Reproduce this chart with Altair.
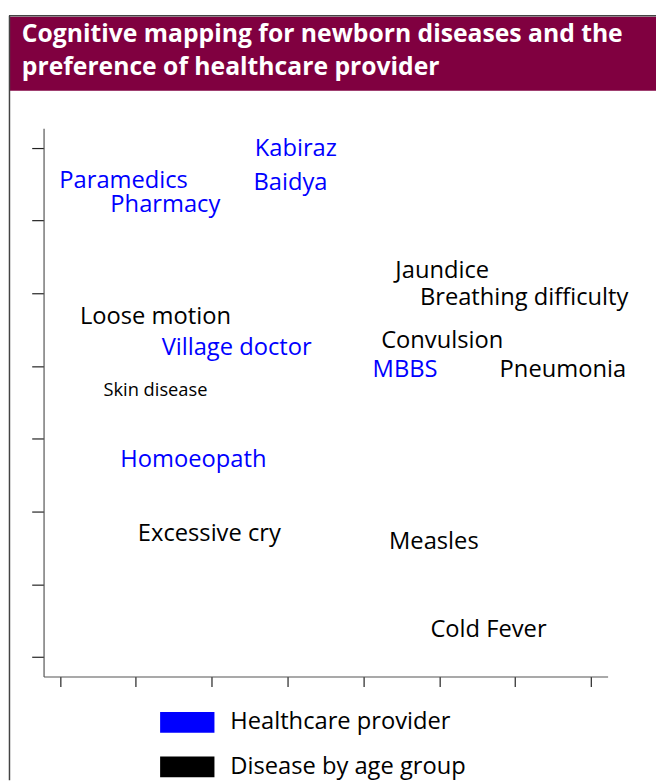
import altair as alt
import pandas as pd

# ---- data ----
labels = ["Kabiraz", "Baidya", "Paramedics", "Pharmacy", "Village doctor", "Homoeopath", "MBBS",
          "Loose motion", "Skin disease", "Excessive cry", "Jaundice", "Breathing difficulty",
          "Convulsion", "Pneumonia", "Measles", "Cold Fever"]
xs = [3.11, 3.04, 0.84, 1.39, 2.33, 1.76, 4.55,
      1.26, 1.26, 1.97, 5.04, 6.12, 5.04, 6.63, 4.93, 5.65]
ys = [6.99, 6.52, 6.55, 6.21, 4.25, 2.70, 3.94,
      4.67, 3.67, 1.69, 5.30, 4.93, 4.35, 3.94, 1.58, 0.37]
groups = ["Healthcare provider"] * 7 + ["Disease by age group"] * 9
font_sizes = [24, 24, 24, 24, 24, 24, 24, 24, 18.5, 24, 24, 24, 24, 24, 24, 24]

group_names = ["Healthcare provider", "Disease by age group"]
group_colors = ["#0000ff", "#000000"]
tick_values = [0, 1, 2, 3, 4, 5, 6, 7]
title_lines = ["Cognitive mapping for newborn diseases and the",
               "preference of healthcare provider"]

FONT = "Open Sans"

df = pd.DataFrame({"label": labels, "x": xs, "y": ys, "group": groups, "fs": font_sizes})
title_df = pd.DataFrame({"line": title_lines, "row": [0, 1]})

W, H = 571, 555

xscale = alt.Scale(domain=[-0.215, 7.22], nice=False, zero=False)
yscale = alt.Scale(domain=[-0.27, 7.27], nice=False, zero=False)

points = alt.Chart(df).mark_text(font=FONT, align="center", baseline="middle").encode(
    x=alt.X("x:Q", scale=xscale,
            axis=alt.Axis(values=tick_values, labels=False, title=None, grid=False,
                          tickSize=10, domainColor="#555555", tickColor="#222222",
                          domainWidth=1.2, tickWidth=1.2)),
    y=alt.Y("y:Q", scale=yscale,
            axis=alt.Axis(values=tick_values, labels=False, title=None, grid=False,
                          tickSize=12, domainColor="#555555", tickColor="#222222",
                          domainWidth=1.2, tickWidth=1.2)),
    text="label:N",
    size=alt.Size("fs:Q", scale=None, legend=None),
    color=alt.Color("group:N",
                    scale=alt.Scale(domain=group_names, range=group_colors),
                    legend=alt.Legend(orient="none", legendX=118, legendY=574, title=None,
                                      symbolType="M-1,-0.382L1,-0.382L1,0.382L-1,0.382Z",
                                      symbolSize=3025, symbolStrokeWidth=0,
                                      symbolOpacity=1, labelLimit=0,
                                      labelFont=FONT, labelFontSize=24, labelColor="#000",
                                      labelOffset=16, rowPadding=5, padding=0)),
)

banner = alt.Chart(pd.DataFrame({"a": [0]})).mark_rect(color="#800040").encode(
    x=alt.value(-34), x2=alt.value(620), y=alt.value(-113), y2=alt.value(-38)
)

frame_top = alt.Chart(pd.DataFrame({"a": [0]})).mark_rule(color="#444444", strokeWidth=1.5).encode(
    x=alt.value(-35), x2=alt.value(620), y=alt.value(-114)
)
frame_left = alt.Chart(pd.DataFrame({"a": [0]})).mark_rule(color="#444444", strokeWidth=1.5).encode(
    x=alt.value(-34.5), y=alt.value(-114), y2=alt.value(660)
)

title_text = alt.Chart(title_df).mark_text(
    font=FONT, fontSize=25, fontWeight="bold", color="white", align="left", baseline="middle"
).encode(
    x=alt.value(-22),
    y=alt.Y("row:Q", scale=alt.Scale(domain=[0, 1], range=[-95, -62]), axis=None),
    text="line:N",
)

chart = alt.layer(banner, frame_top, frame_left, title_text, points).properties(
    width=W, height=H,
    autosize=alt.AutoSizeParams(type="none"),
    padding={"left": 36, "top": 117, "right": 49, "bottom": 103},
).resolve_scale(y="independent").configure_view(stroke=None)

chart.save("out.html", embed_options={"renderer": "svg", "actions": False})
